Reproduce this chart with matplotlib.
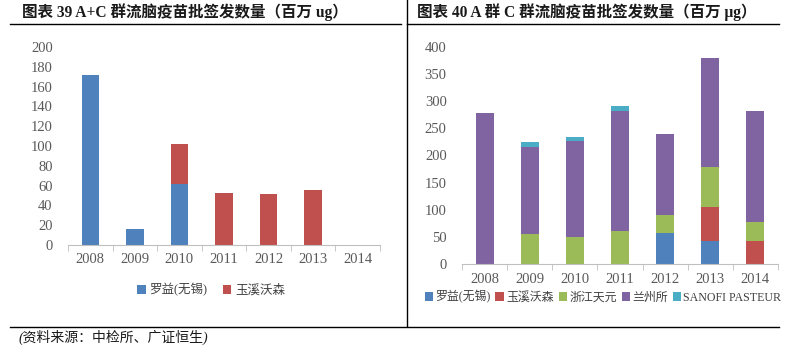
import numpy as np
import matplotlib
matplotlib.use("Agg")
import matplotlib.pyplot as plt
from matplotlib.lines import Line2D

plt.rcParams['font.family'] = ['Liberation Serif', 'Noto Sans CJK SC', 'DejaVu Sans']

# ---- data ----
years = ['2008', '2009', '2010', '2011', '2012', '2013', '2014']

# A+C 群 (百万 ug)
ac_luoyi = [172, 16, 62, 0, 0, 0, 0]
ac_yuxi = [0, 0, 40, 53, 51.5, 56, 0]

# A 群 C 群 (百万 μg)
a_luoyi = [0, 0, 0, 0, 57, 43, 0]
a_yuxi = [0, 0, 0, 0, 0, 63, 43]
a_zhejiang = [0, 56, 50, 62, 33, 72, 35]
a_lanzhou = [278, 160, 177, 220, 150, 202, 203]
a_sanofi = [0, 8, 7, 9, 0, 0, 0]

series_labels = ['罗益(无锡)', '玉溪沃森', '浙江天元', '兰州所', 'SANOFI PASTEUR']
colors = ['#4F81BD', '#C0504D', '#9BBB59', '#8064A2', '#4BACC6']

text_gray = '#595959'
axis_gray = '#BFBFBF'

fig = plt.figure(figsize=(8.02, 3.52), dpi=100)
W, H = 802, 352


def fx(px):
    return px / W


def fy(py):
    return 1 - py / H


def style_axes(ax, ymax, step):
    for s in ['top', 'right', 'left']:
        ax.spines[s].set_visible(False)
    ax.spines['bottom'].set_color(axis_gray)
    ax.set_xlim(-0.5, len(years) - 0.5)
    ax.set_ylim(0, ymax)
    ax.set_yticks(np.arange(0, ymax + 1, step))
    ax.tick_params(axis='y', length=0, pad=11, labelsize=10.5, labelcolor=text_gray)
    ax.set_xticks(range(len(years)))
    ax.set_xticklabels(years)
    ax.tick_params(axis='x', which='major', length=0, pad=6, labelsize=10.5, labelcolor=text_gray)
    ax.set_xticks(np.arange(-0.5, len(years), 1), minor=True)
    ax.tick_params(axis='x', which='minor', length=4, color=axis_gray, direction='out')


# ---- left chart ----
ax1 = fig.add_axes([fx(68), fy(245), fx(380 - 68), 198 / H])
x = np.arange(len(years))
bw = 0.39
ax1.bar(x, ac_luoyi, bw, color=colors[0], label=series_labels[0])
ax1.bar(x, ac_yuxi, bw, bottom=ac_luoyi, color=colors[1], label=series_labels[1])
style_axes(ax1, 200, 20)
leg1 = ax1.legend(loc='center', bbox_to_anchor=(fx(211), fy(290)), bbox_transform=fig.transFigure,
                  ncol=2, frameon=False, fontsize=9, handlelength=0.7, handleheight=0.7,
                  handletextpad=0.3, columnspacing=1.2)
for t in leg1.get_texts():
    t.set_color('#404040')

# ---- right chart ----
ax2 = fig.add_axes([fx(462), fy(264.3), fx(778 - 462), 217.6 / H])
bottom = np.zeros(len(years))
for vals, c, lab in zip([a_luoyi, a_yuxi, a_zhejiang, a_lanzhou, a_sanofi], colors, series_labels):
    ax2.bar(x, vals, 0.4, bottom=bottom, color=c, label=lab)
    bottom += np.array(vals)
style_axes(ax2, 400, 50)
leg2 = ax2.legend(loc='center', bbox_to_anchor=(fx(603), fy(297)), bbox_transform=fig.transFigure,
                  ncol=5, frameon=False, fontsize=8.6, handlelength=0.7, handleheight=0.7,
                  handletextpad=0.2, columnspacing=0.4)
for t in leg2.get_texts():
    t.set_color('#404040')

# ---- titles, frame lines, source ----
fig.text(fx(22), fy(12), '图表 39 A+C 群流脑疫苗批签发数量（百万 ug）', fontsize=11.2,
         fontweight='bold', va='center', ha='left', color='#1a1a1a')
fig.text(fx(417), fy(12), '图表 40 A 群 C 群流脑疫苗批签发数量（百万 μg）', fontsize=11.2,
         fontweight='bold', va='center', ha='left', color='#1a1a1a')

fig.add_artist(Line2D([fx(10), fx(401)], [fy(24), fy(24)], color='black', lw=1))
fig.add_artist(Line2D([fx(407), fx(779)], [fy(24), fy(24)], color='black', lw=1))
fig.add_artist(Line2D([fx(407), fx(407)], [fy(0), fy(326)], color='black', lw=1))
fig.add_artist(Line2D([fx(10), fx(779)], [fy(326.5), fy(326.5)], color='black', lw=1))

fig.text(fx(19), fy(337), '(资料来源：中检所、广证恒生)', fontsize=10, va='center', ha='left',
         color='#1a1a1a', style='italic')

fig.savefig('out.png', dpi=100, facecolor='white')
